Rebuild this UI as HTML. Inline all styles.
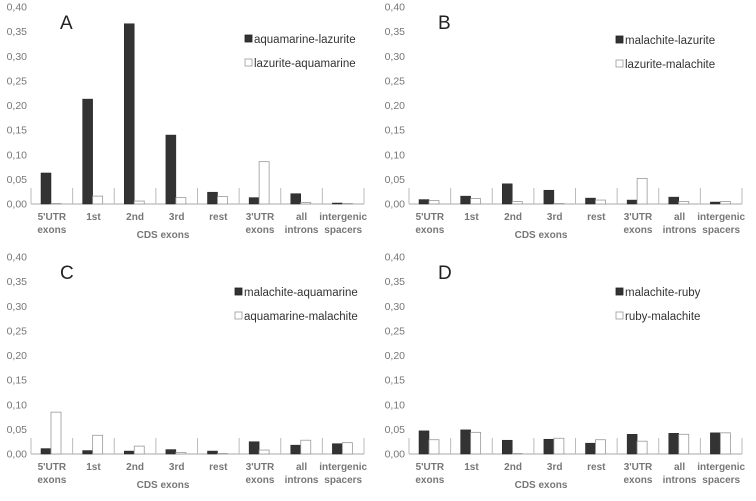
<!DOCTYPE html>
<html><head><meta charset="utf-8"><style>
body{margin:0;background:#fff;}
svg{display:block;font-family:"Liberation Sans",sans-serif;}
</style></head><body>
<svg id="chart" width="756" height="501" viewBox="0 0 756 501"></svg>
<script>
const categories = ["5'UTR|exons","1st","2nd","3rd","rest","3'UTR|exons","all|introns","intergenic|spacers"];
const yTicks = [0,0.05,0.10,0.15,0.20,0.25,0.30,0.35,0.40];
const yTickLabels = ["0,00","0,05","0,10","0,15","0,20","0,25","0,30","0,35","0,40"];
const panelLetters = ["A","B","C","D"];
const legendA = ["aquamarine-lazurite","lazurite-aquamarine"];
const legendB = ["malachite-lazurite","lazurite-malachite"];
const legendC = ["malachite-aquamarine","aquamarine-malachite"];
const legendD = ["malachite-ruby","ruby-malachite"];
const darkA = [0.063,0.213,0.366,0.140,0.024,0.013,0.021,0.002];
const whiteA = [0.001,0.016,0.006,0.013,0.015,0.086,0.003,0.001];
const darkB = [0.009,0.016,0.041,0.028,0.012,0.008,0.014,0.004];
const whiteB = [0.007,0.011,0.005,0.001,0.008,0.052,0.005,0.005];
const darkC = [0.011,0.007,0.006,0.009,0.006,0.025,0.018,0.021];
const whiteC = [0.085,0.038,0.016,0.003,0.001,0.008,0.028,0.023];
const darkD = [0.047,0.049,0.028,0.030,0.022,0.040,0.042,0.043];
const whiteD = [0.029,0.044,0.001,0.032,0.029,0.026,0.040,0.043];

const svg = document.getElementById('chart');
const NS = 'http://www.w3.org/2000/svg';
function mk(tag, attrs, parent){const e=document.createElementNS(NS,tag);for(const k in attrs)e.setAttribute(k,attrs[k]);parent.appendChild(e);return e;}

const panels = [
 {ox:0, oy:0, dark:darkA, white:whiteA, legend:legendA, lx:245, ly:39},
 {ox:378, oy:0, dark:darkB, white:whiteB, legend:legendB, lx:238, ly:40},
 {ox:0, oy:250, dark:darkC, white:whiteC, legend:legendC, lx:235, ly:42},
 {ox:378, oy:250, dark:darkD, white:whiteD, legend:legendD, lx:238, ly:42}
];

panels.forEach((p, pi) => {
  const g = mk('g', {transform:`translate(${p.ox},${p.oy})`}, svg);
  
  
  const x0 = 31, x1 = 364, yBase = 204, yTop = 7;
  const catW = (x1 - x0) / categories.length;
  const yScale = v => yBase - (v / 0.40) * (yBase - yTop);
  const xCat = i => x0 + i * catW;

  yTicks.forEach((t, i) => {
    const tx = mk('text', {x:27, y:yScale(t)+3.5, 'text-anchor':'end', 'font-size':'10.5', fill:'#777'}, g);
    tx.textContent = yTickLabels[i];
    
    
  });

  const ax = mk('line', {x1:x0, x2:x1, y1:yBase, y2:yBase, stroke:'#aaa', 'stroke-width':1}, g);
  
  
  for (let i = 0; i <= categories.length; i++) {
    const sep = mk('line', {x1:xCat(i), x2:xCat(i), y1:yBase, y2:yBase-16, stroke:'#bbb', 'stroke-width':1}, g);
    
    
  }

  categories.forEach((c, i) => {
    const bw = 10;
    const bx = xCat(i) + 10;
    const d = mk('rect', {x:bx, y:yScale(p.dark[i]), width:bw, height:yBase - yScale(p.dark[i]), fill:'#333', stroke:'#222', 'stroke-width':0.5}, g);
    
    
    const w = mk('rect', {x:bx+bw, y:yScale(p.white[i]), width:bw, height:yBase - yScale(p.white[i]), fill:'#fff', stroke:'#999', 'stroke-width':0.8}, g);
    
    
    const parts = c.split('|');
    parts.forEach((pt, j) => {
      const t = mk('text', {x:xCat(i)+catW/2, y:220 + j*13, 'text-anchor':'middle', 'font-size':'10', 'font-weight':'bold', fill:'#777'}, g);
      t.textContent = pt;
      
      
    });
  });
  const cds = mk('text', {x:163, y:238, 'text-anchor':'middle', 'font-size':'10', 'font-weight':'bold', fill:'#777'}, g);
  cds.textContent = 'CDS exons';
  
  

  const letter = mk('text', {x:60, y:29, 'font-size':'19', fill:'#222'}, g);
  letter.textContent = panelLetters[pi];
  
  

  p.legend.forEach((name, j) => {
    const ly = p.ly + j*24;
    const sq = mk('rect', {x:p.lx, y:ly-4, width:7, height:7, fill: j===0?'#333':'#fff', stroke: j===0?'#222':'#999', 'stroke-width':0.8}, g);
    
    
    const lt = mk('text', {x:p.lx+9, y:ly+4, 'font-size':'11.5', fill:'#333'}, g);
    lt.textContent = name;
    
    
  });
});
</script>
</body></html>
